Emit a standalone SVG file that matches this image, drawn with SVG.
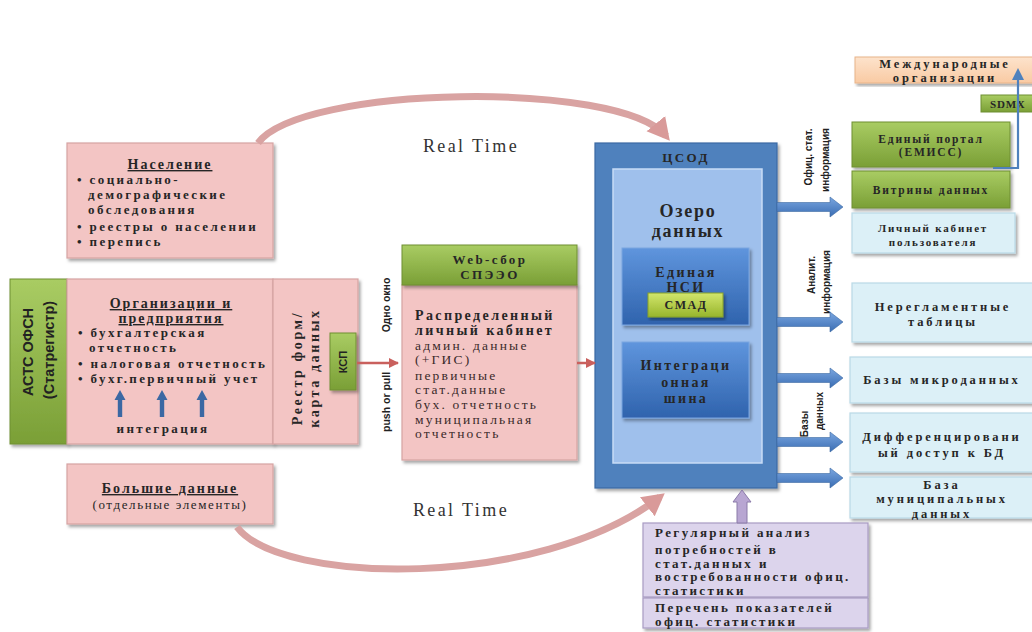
<svg xmlns="http://www.w3.org/2000/svg" width="1032" height="632" viewBox="0 0 1032 632">
<defs>
<style>
.s{font-family:"Liberation Serif",serif;font-weight:bold;font-size:13px;fill:#262626;letter-spacing:2.4px}
.n{font-family:"Liberation Serif",serif;font-weight:normal;font-size:13.5px;fill:#3a2a2a;letter-spacing:2.2px}
.h{font-family:"Liberation Serif",serif;font-weight:bold;font-size:14px;fill:#262626;letter-spacing:2px;text-decoration:underline}
.r{font-family:"Liberation Serif",serif;font-weight:bold;font-size:12.5px;fill:#262626;letter-spacing:2.9px}
.r2{font-family:"Liberation Serif",serif;font-weight:bold;font-size:11.5px;fill:#262626;letter-spacing:1.8px}
.v{font-family:"Liberation Sans",sans-serif;font-weight:bold;font-size:10px;fill:#222}
.rt{font-family:"Liberation Serif",serif;font-size:18px;fill:#333;letter-spacing:2.4px}
.m{text-anchor:middle}
.pink{fill:#f3c5c4;stroke:#d6a3a2;stroke-width:1.2}
.lb{fill:#dcf0f7;stroke:#b9d9e6;stroke-width:1.2}
.lav{fill:#dcd4ec;stroke:#a89bc4;stroke-width:1.2}
</style>
<filter id="sh" x="-10%" y="-10%" width="125%" height="125%"><feDropShadow dx="2" dy="2.5" stdDeviation="1.5" flood-color="#000" flood-opacity="0.35"/></filter>
<linearGradient id="gr" x1="0" y1="0" x2="0" y2="1"><stop offset="0" stop-color="#a9cc63"/><stop offset="1" stop-color="#7a9f36"/></linearGradient>
<linearGradient id="gy" x1="0" y1="0" x2="0" y2="1"><stop offset="0" stop-color="#d2e66c"/><stop offset="1" stop-color="#97b52c"/></linearGradient>
<linearGradient id="bl" x1="0" y1="0" x2="0" y2="1"><stop offset="0" stop-color="#5f95dd"/><stop offset="1" stop-color="#2f63ad"/></linearGradient>
<linearGradient id="ba" x1="0" y1="0" x2="0" y2="1"><stop offset="0" stop-color="#7aa6e0"/><stop offset="1" stop-color="#3a6db3"/></linearGradient>
<linearGradient id="pc" x1="0" y1="0" x2="0" y2="1"><stop offset="0" stop-color="#fde3cc"/><stop offset="1" stop-color="#f9caa3"/></linearGradient>
<path id="ra" d="M0,-4.5 H53 V-10 L66,0 L53,10 V4.5 H0 Z"/>
<path id="ua" d="M-2.2,0 V-17 H-5.5 L0,-27 L5.5,-17 H2.2 V0 Z"/>
<marker id="ahp" markerUnits="userSpaceOnUse" markerWidth="26" markerHeight="26" refX="16" refY="12" orient="auto"><path d="M0,0 L22,12 L0,24 Z" fill="#d99a99"/></marker>
<marker id="ahr" markerUnits="userSpaceOnUse" markerWidth="12" markerHeight="12" refX="9" refY="5" orient="auto"><path d="M0,0 L10,5 L0,10 Z" fill="#c9605d"/></marker>
<marker id="ahb" markerUnits="userSpaceOnUse" markerWidth="12" markerHeight="12" refX="6" refY="6" orient="auto"><path d="M0,0 L12,6 L0,12 Z" fill="#4f81bd"/></marker>
</defs>
<rect width="1032" height="632" fill="#fff"/>

<g id="real-time-labels">
<text class="rt m" x="471" y="152">Real Time</text>
<text class="rt m" x="461" y="516">Real Time</text>
</g>

<g id="naselenie">
<rect class="pink" x="67" y="143" width="206" height="115" filter="url(#sh)"/>
<text class="h m" x="170" y="169">Население</text>
<text class="s" x="77" y="184">• социально-</text>
<text class="s" x="88" y="199">демографические</text>
<text class="s" x="88" y="214">обследования</text>
<text class="s" x="77" y="231">• реестры о населении</text>
<text class="s" x="77" y="246">• перепись</text>
</g>

<g id="asts">
<rect x="10" y="279" width="57" height="165" fill="url(#gr)" stroke="#6f8f33" stroke-width="1" filter="url(#sh)"/>
<text font-family="Liberation Sans,sans-serif" font-weight="bold" font-size="14.5" fill="#222" text-anchor="middle" transform="translate(33,352) rotate(-90)">АСТС ОФСН</text>
<text font-family="Liberation Sans,sans-serif" font-weight="bold" font-size="14.5" fill="#222" text-anchor="middle" transform="translate(54,350) rotate(-90)">(Статрегистр)</text>
</g>

<g id="organizatsii">
<rect class="pink" x="67" y="279" width="206" height="165" filter="url(#sh)"/>
<text class="h m" x="171" y="308">Организации и</text>
<text class="h m" x="171" y="323">предприятия</text>
<text class="s" x="78" y="337">• бухгалтерская</text>
<text class="s" x="89" y="352">отчетность</text>
<text class="s" x="78" y="368">• налоговая отчетность</text>
<text class="s" x="78" y="383">• бухг.первичный учет</text>
<text class="s m" x="163" y="433">интеграция</text>
</g>

<g id="reestr">
<rect class="pink" x="273" y="279" width="85" height="165" filter="url(#sh)"/>
<text class="s m" style="font-size:14px;letter-spacing:2.6px" transform="translate(302,368) rotate(-90)">Реестр форм/</text>
<text class="s m" style="font-size:14px;letter-spacing:2.6px" transform="translate(319,368) rotate(-90)">карта данных</text>
</g>

<g id="ksp">
<rect x="330" y="333" width="26" height="57" fill="url(#gr)" stroke="#6f8f33" stroke-width="1" filter="url(#sh)"/>
<text class="v m" style="font-size:11px" transform="translate(347,362) rotate(-90)">КСП</text>
</g>

<g id="odno-okno-labels">
<text class="v m" style="font-size:10.5px" transform="translate(390,305) rotate(-90)">Одно окно</text>
<text class="v m" style="font-size:10.5px" transform="translate(390,402) rotate(-90)">push or pull</text>
</g>

<g id="websbor">
<rect class="pink" x="402" y="285" width="175" height="175" filter="url(#sh)"/>
<rect x="402" y="245" width="175" height="40" fill="url(#gr)" stroke="#6f8f33" stroke-width="1" filter="url(#sh)"/>
<text class="s m" x="490" y="264">Web-сбор</text>
<text class="s m" x="490" y="279">СПЭЭО</text>
<text class="s" style="font-size:14px;letter-spacing:2.4px" x="415" y="320">Распределенный</text>
<text class="s" style="font-size:14px;letter-spacing:2.4px" x="415" y="335">личный кабинет</text>
<text class="n" x="415" y="350">админ. данные</text>
<text class="n" x="415" y="364">(+ГИС)</text>
<text class="n" x="415" y="380">первичные</text>
<text class="n" x="415" y="394">стат.данные</text>
<text class="n" x="415" y="409">бух. отчетность</text>
<text class="n" x="415" y="424">муниципальная</text>
<text class="n" x="415" y="438">отчетность</text>
</g>

<g id="tsod">
<rect x="595" y="143" width="182" height="345" fill="#4f81bd" stroke="#3c6aa3" stroke-width="1.2" filter="url(#sh)"/>
<text class="s m" x="686" y="162">ЦСОД</text>
<rect x="613" y="169" width="149" height="294" fill="#9fc0ec" stroke="#c8dcf6" stroke-width="1.5"/>
<text class="s m" style="font-size:18px;letter-spacing:1.8px" x="688" y="217">Озеро</text>
<text class="s m" style="font-size:18px;letter-spacing:1.8px" x="688" y="237">данных</text>
</g>

<g id="nsi">
<rect x="622" y="248" width="127" height="77" fill="url(#bl)" stroke="#7aa6e0" stroke-width="1" filter="url(#sh)"/>
<text class="s m" style="font-size:14px" x="686" y="277">Единая</text>
<text class="s m" style="font-size:14px" x="686" y="292">НСИ</text>
</g>

<g id="smad">
<rect x="648" y="293" width="75" height="24" fill="url(#gy)" stroke="#86a02a" stroke-width="1" filter="url(#sh)"/>
<text class="s m" style="font-size:12px;letter-spacing:1.5px" x="686" y="309">СМАД</text>
</g>

<g id="shina">
<rect x="622" y="342" width="127" height="76" fill="url(#bl)" stroke="#7aa6e0" stroke-width="1" filter="url(#sh)"/>
<text class="s m" style="font-size:14px" x="686" y="370">Интеграци</text>
<text class="s m" style="font-size:14px" x="686" y="387">онная</text>
<text class="s m" style="font-size:14px" x="686" y="403">шина</text>
</g>

<g id="vertical-labels">
<text class="v m" transform="translate(812,157) rotate(-90)">Офиц. стат.</text>
<text class="v m" transform="translate(829,160) rotate(-90)">информация</text>
<text class="v m" transform="translate(815,275) rotate(-90)">Аналит.</text>
<text class="v m" transform="translate(830,282) rotate(-90)">информация</text>
<text class="v m" transform="translate(808,424) rotate(-90)">Базы</text>
<text class="v m" transform="translate(823,411) rotate(-90)">данных</text>
</g>

<g id="mezhdunarodnye">
<rect x="855" y="57" width="185" height="26" fill="url(#pc)" stroke="#e8b48a" stroke-width="1" filter="url(#sh)"/>
<text class="r m" x="945" y="68">Международные</text>
<text class="r m" x="945" y="82">организации</text>
</g>

<g id="sdmx">
<rect x="981" y="95" width="60" height="17" fill="url(#gr)" stroke="#6f8f33" stroke-width="1"/>
<text class="r2" style="font-size:11px;letter-spacing:0.8px" x="990" y="108">SDMX</text>
</g>

<g id="portal">
<rect x="852" y="122" width="158" height="45" fill="url(#gr)" stroke="#6f8f33" stroke-width="1" filter="url(#sh)"/>
<text class="r2 m" x="931" y="143">Единый портал</text>
<text class="r2 m" x="931" y="156">(ЕМИСС)</text>
</g>

<g id="vitriny">
<rect x="852" y="171" width="158" height="37" fill="url(#gr)" stroke="#6f8f33" stroke-width="1" filter="url(#sh)"/>
<text class="r2 m" x="931" y="194">Витрины данных</text>
</g>

<g id="lichnyi-kabinet">
<rect class="lb" x="852" y="213" width="163" height="40" filter="url(#sh)"/>
<text class="r2 m" style="font-size:11px" x="933" y="232">Личный кабинет</text>
<text class="r2 m" style="font-size:11px" x="933" y="246">пользователя</text>
</g>

<g id="nereglament">
<rect class="lb" x="852" y="283" width="190" height="59" filter="url(#sh)"/>
<text class="r m" x="943" y="311">Нерегламентные</text>
<text class="r m" x="943" y="326">таблицы</text>
</g>

<g id="mikrodannye">
<rect class="lb" x="850" y="357" width="190" height="46" filter="url(#sh)"/>
<text class="r m" x="942" y="384">Базы микроданных</text>
</g>

<g id="differents">
<rect class="lb" x="850" y="413" width="190" height="59" filter="url(#sh)"/>
<text class="r m" x="942" y="441">Дифференцировани</text>
<text class="r m" x="942" y="457">ый доступ к БД</text>
</g>

<g id="munitsipal">
<rect class="lb" x="850" y="477" width="190" height="41" filter="url(#sh)"/>
<text class="r m" x="942" y="489">База</text>
<text class="r m" x="942" y="503">муниципальных</text>
<text class="r m" x="942" y="518">данных</text>
</g>

<g id="analiz">
<rect class="lav" x="643" y="523" width="225" height="74" filter="url(#sh)"/>
<text class="s" x="655" y="537">Регулярный анализ</text>
<text class="s" x="655" y="554">потребностей в</text>
<text class="s" x="655" y="568">стат.данных и</text>
<text class="s" x="655" y="581">востребованности офиц.</text>
<text class="s" x="655" y="595">статистики</text>
</g>

<g id="perechen">
<rect class="lav" x="643" y="598" width="225" height="30" filter="url(#sh)"/>
<text class="s" x="655" y="612">Перечень показателей</text>
<text class="s" x="655" y="626">офиц. статистики</text>
</g>

<g id="bolshie">
<rect class="pink" x="67" y="464" width="206" height="60" filter="url(#sh)"/>
<text class="h m" x="170" y="493">Большие данные</text>
<text class="s m" style="font-weight:normal;letter-spacing:1.6px" x="170" y="509">(отдельные элементы)</text>
</g>

<g id="connectors">
<path d="M258,143 C300,85 620,80 666,136" fill="none" stroke="#d9a3a2" stroke-width="7" marker-end="url(#ahp)"/>
<path d="M237,527 C280,585 540,590 660,497" fill="none" stroke="#d9a3a2" stroke-width="7" marker-end="url(#ahp)"/>
<line x1="357" y1="363" x2="398" y2="363" stroke="#c9605d" stroke-width="2.5" marker-end="url(#ahr)"/>
<line x1="577" y1="363" x2="595" y2="363" stroke="#c9605d" stroke-width="2.5" marker-end="url(#ahr)"/>
<g fill="url(#ba)" stroke="#3c6aa3" stroke-width="0.6">
<use href="#ra" x="777" y="207"/>
<use href="#ra" x="777" y="322"/>
<use href="#ra" x="777" y="378"/>
<use href="#ra" x="777" y="442"/>
<use href="#ra" x="777" y="478"/>
</g>
<polyline points="993,168 1018,168 1018,74" fill="none" stroke="#4f81bd" stroke-width="2.2" marker-end="url(#ahb)"/>
<g fill="#3b68a3">
<use href="#ua" x="120" y="417"/>
<use href="#ua" x="162" y="417"/>
<use href="#ua" x="202" y="417"/>
</g>
<path d="M737,523 V502 H733 L742,490 L751,502 H747 V523 Z" fill="#b8a6d2" stroke="#8a7aa8" stroke-width="1"/>
</g>
</svg>
